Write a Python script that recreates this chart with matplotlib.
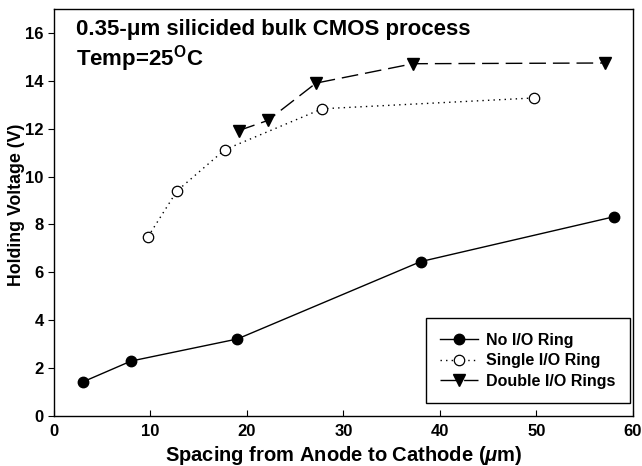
import matplotlib

matplotlib.use("Agg")

import matplotlib.pyplot as plt

# values
x_no_ring = [3.0, 8.0, 19.0, 38.0, 58.0]
v_no_ring = [1.43, 2.30, 3.22, 6.45, 8.32]

x_single = [9.75, 12.75, 17.7, 27.8, 49.7]
v_single = [7.49, 9.40, 11.12, 12.83, 13.28]

x_double = [19.15, 22.15, 27.15, 37.2, 57.1]
v_double = [11.92, 12.34, 13.90, 14.71, 14.74]

x_ticks = [0, 10, 20, 30, 40, 50, 60]
y_ticks = [0, 2, 4, 6, 8, 10, 12, 14, 16]

plt.rcParams["font.family"] = ["Liberation Sans", "DejaVu Sans"]
plt.rcParams["mathtext.fontset"] = "custom"
plt.rcParams["mathtext.rm"] = "Liberation Sans:bold"
plt.rcParams["mathtext.it"] = "Liberation Sans:bold:italic"


def main() -> None:
    fig = plt.figure(figsize=(6.42, 4.66), dpi=100)
    ax = fig.add_axes([0.084, 0.107, 0.902, 0.874])

    ax.plot(x_no_ring, v_no_ring, color="black", lw=1.0, marker="o",
            ms=7.5, mfc="black", mec="black", label="No I/O Ring")
    ax.plot(x_single, v_single, color="black", lw=1.0, ls=(0, (1, 3)), marker="o",
            ms=7.5, mfc="white", mec="black", mew=0.9, label="Single I/O Ring")
    ax.plot(x_double, v_double, color="black", lw=1.0, ls=(0, (12, 5)), marker="v",
            ms=8, mfc="black", mec="black", label="Double I/O Rings")

    ax.set_xlim(0, 60)
    ax.set_ylim(0, 17)
    ax.set_xticks(x_ticks)
    ax.set_yticks(y_ticks)
    ax.tick_params(axis="x", direction="in", length=4, width=0.8, pad=6)
    ax.tick_params(axis="y", direction="out", length=4, width=0.8)
    for lab in ax.get_xticklabels() + ax.get_yticklabels():
        lab.set_fontweight("bold")
        lab.set_fontsize(12)
    for sp in ax.spines.values():
        sp.set_linewidth(1.0)

    ax.set_xlabel(r"Spacing from Anode to Cathode ($\mu$m)", fontsize=14.5,
                  fontweight="bold", labelpad=3)
    ax.set_ylabel("Holding Voltage (V)", fontsize=12.8, fontweight="bold")
    ax.yaxis.set_label_coords(-0.05, 0.518)

    ax.text(0.038, 0.936, "0.35-\u03bcm silicided bulk CMOS process", transform=ax.transAxes,
            fontsize=16, fontweight="bold", va="baseline", ha="left")
    ax.text(0.038, 0.862, r"Temp=25$^{\rm O}$C", transform=ax.transAxes,
            fontsize=16, fontweight="bold", va="baseline", ha="left")

    leg = ax.legend(loc="lower right", bbox_to_anchor=(0.995, 0.032), borderaxespad=0,
                    prop={"weight": "bold", "size": 11.5}, frameon=True, fancybox=False,
                    edgecolor="black", framealpha=1, handlelength=2.4,
                    borderpad=0.9, labelspacing=0.35, handletextpad=0.5)
    leg.get_frame().set_linewidth(1.0)

    fig.savefig("out.png", dpi=100)
    plt.close(fig)


if __name__ == "__main__":
    main()
